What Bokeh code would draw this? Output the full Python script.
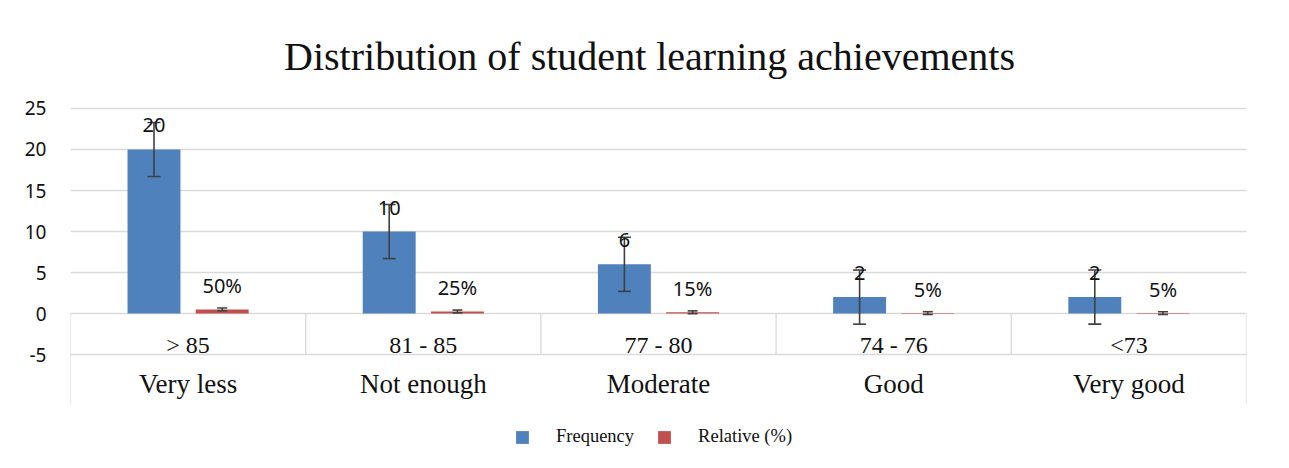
from bokeh.plotting import figure
from bokeh.models import (ColumnDataSource, Range1d, FixedTicker, Whisker, TeeHead,
                          LabelSet, Label, Legend, LegendItem)
from bokeh.core.properties import value
from bokeh.embed import file_html
from bokeh.resources import INLINE

# ---- data ----
levels = ["Very less", "Not enough", "Moderate", "Good", "Very good"]
score_ranges = ["> 85", "81 - 85", "77 - 80", "74 - 76", "<73"]
frequency = [20, 10, 6, 2, 2]
relative = [0.50, 0.25, 0.15, 0.05, 0.05]
freq_error = [3.3, 3.3, 3.3, 3.3, 3.3]
rel_error = [0.17, 0.17, 0.17, 0.17, 0.17]
y_ticks = [-5, 0, 5, 10, 15, 20, 25]
title_text = "Distribution of student learning achievements"
series_names = ["Frequency", "Relative (%)"]

# ---- style ----
BLUE = "#4F81BD"
RED = "#C0504D"
GRID = "#D9D9D9"
ERR = "#404040"
TXT = "#111111"
BAR_W = 0.225
OFF = 0.145
AXIS_LOW = -11.1          # bottom of the category table
VIEW_LOW = -16.95         # frame extends to the bottom of the figure
VIEW_HIGH = 38.17         # frame extends to the top of the figure
AXIS_HIGH = 25

n = len(levels)
centers = [i + 0.5 for i in range(n)]
src = ColumnDataSource(dict(
    x=centers,
    xf=[c - OFF for c in centers],
    xr=[c + OFF for c in centers],
    freq=frequency,
    rel=relative,
    f_up=[v + e for v, e in zip(frequency, freq_error)],
    f_lo=[v - e for v, e in zip(frequency, freq_error)],
    r_up=[v + e for v, e in zip(relative, rel_error)],
    r_lo=[v - e for v, e in zip(relative, rel_error)],
    f_lbl=[str(v) for v in frequency],
    r_lbl=["%d%%" % round(v * 100) for v in relative],
    level=levels,
    rng=score_ranges,
))

p = figure(width=1273, height=452, x_range=Range1d(0, n), y_range=Range1d(VIEW_LOW, VIEW_HIGH),
           x_axis_type=None, output_backend="svg", toolbar_location=None,
           min_border_left=70, min_border_right=27, min_border_top=0, min_border_bottom=0)
p.title.visible = False
p.outline_line_color = None
p.background_fill_color = "white"
p.border_fill_color = "white"

# y axis
p.yaxis.ticker = FixedTicker(ticks=y_ticks)
p.yaxis.major_label_overrides = {t: str(t) for t in y_ticks}
p.yaxis.axis_line_color = None
p.yaxis.major_tick_line_color = None
p.yaxis.minor_tick_line_color = None
p.yaxis.major_label_standoff = 18
p.yaxis.major_label_text_font = "Noto Sans"
p.yaxis.major_label_text_font_size = "19px"
p.yaxis.major_label_text_color = TXT
p.xgrid.visible = False
p.ygrid.ticker = FixedTicker(ticks=y_ticks)
p.ygrid.grid_line_color = GRID
p.ygrid.grid_line_width = 1.3

# category table separators
bounds = list(range(n + 1))
p.segment(x0=bounds, x1=bounds, y0=[0] * (n + 1),
          y1=[AXIS_LOW if b in (0, n) else -5 for b in bounds],
          line_color=GRID, line_width=1.3)

# bars
r_f = p.vbar(x="xf", top="freq", width=BAR_W, source=src, fill_color=BLUE, line_color=None)
r_r = p.vbar(x="xr", top="rel", width=BAR_W, source=src, fill_color=RED, line_color=None)

# error bars
wf = Whisker(source=src, base="xf", upper="f_up", lower="f_lo", dimension="height",
             line_color=ERR, line_width=1.6, level="overlay",
             upper_head=TeeHead(size=13, line_color=ERR, line_width=1.6),
             lower_head=TeeHead(size=13, line_color=ERR, line_width=1.6))
wr = Whisker(source=src, base="xr", upper="r_up", lower="r_lo", dimension="height",
             line_color=ERR, line_width=1.6, level="overlay",
             upper_head=TeeHead(size=10, line_color=ERR, line_width=1.6),
             lower_head=TeeHead(size=10, line_color=ERR, line_width=1.6))
p.add_layout(wf)
p.add_layout(wr)

# data labels
for xcol, ycol, tcol in (("xf", "freq", "f_lbl"), ("xr", "rel", "r_lbl")):
    p.add_layout(LabelSet(x=xcol, y=ycol, text=tcol, source=src, y_offset=24,
                          text_align="center", text_baseline="middle",
                          text_font=value("Noto Sans"), text_font_size=value("20px"),
                          text_color=TXT, level="overlay"))

# category labels (two levels)
p.text(x="x", y=-3.9, text="rng", source=src, text_align="center", text_baseline="alphabetic",
       text_font=value("Liberation Serif"), text_font_size=value("24px"), text_color=TXT)
p.text(x="x", y=-8.6, text="level", source=src, text_align="center", text_baseline="alphabetic",
       text_font=value("Liberation Serif"), text_font_size=value("27px"), text_color=TXT)

# title
p.add_layout(Label(x=n / 2, y=AXIS_HIGH, x_units="data", y_units="data", text=title_text,
                   x_offset=-9, y_offset=52, text_align="center", text_baseline="alphabetic",
                   text_font="Liberation Serif", text_font_size="40px", text_color=TXT))

# legend
legend = Legend(items=[LegendItem(label=series_names[0], renderers=[r_f]),
                       LegendItem(label=series_names[1], renderers=[r_r])],
                orientation="horizontal", location=(444, 5),
                glyph_width=16, glyph_height=16, label_standoff=26, spacing=22,
                label_text_font="Liberation Serif", label_text_font_size="18.5px",
                label_text_color=TXT, border_line_color=None, background_fill_alpha=0,
                padding=0, margin=0)
p.add_layout(legend, "center")

open("out.html", "w").write(file_html(p, INLINE))
